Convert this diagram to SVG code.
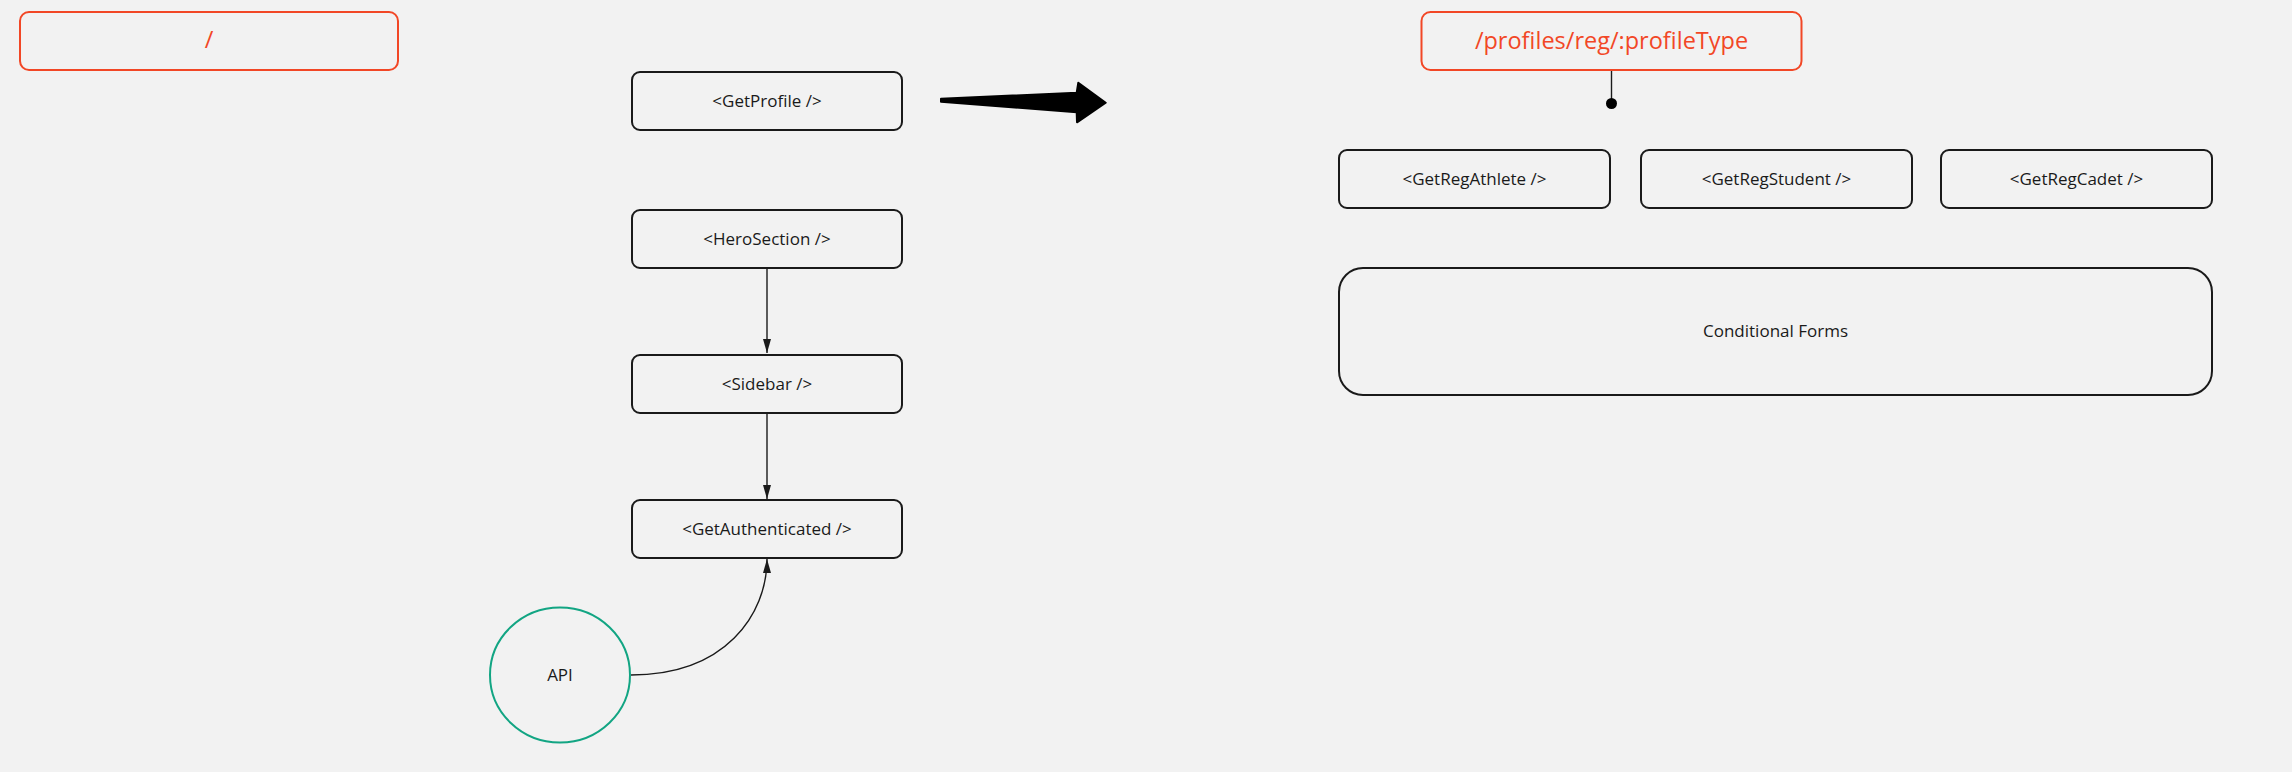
<svg xmlns="http://www.w3.org/2000/svg" width="2292" height="772" viewBox="0 0 2292 772">
  <style>
    .node { fill: #f2f2f2; stroke: #1a1a1a; stroke-width: 2; }
    .route { fill: #f2f2f2; stroke: #f24726; stroke-width: 2; }
    .lbl { font-family: "Open Sans", "Noto Sans", "Liberation Sans", sans-serif; font-size: 17px; fill: #1a1a1a; text-anchor: middle; }
    .rlbl { font-family: "Open Sans", "Noto Sans", "Liberation Sans", sans-serif; font-size: 23.5px; fill: #f24726; text-anchor: middle; }
    .conn { fill: none; stroke: #1a1a1a; stroke-width: 1.4; }
  </style>
  <defs>
    <marker id="arr" markerUnits="userSpaceOnUse" markerWidth="16" markerHeight="10" refX="14" refY="4" orient="auto">
      <path d="M0,0 L14,4 L0,8 z" fill="#1a1a1a"/>
    </marker>
  </defs>
  <rect x="0" y="0" width="2292" height="772" fill="#f2f2f2"/>

  <g id="connectors">
    <path class="conn" d="M767,269 L767,353" marker-end="url(#arr)"/>
    <path class="conn" d="M767,413 L767,499" marker-end="url(#arr)"/>
    <path class="conn" d="M631,675 C725,675 767,615 767,559" marker-end="url(#arr)"/>
    <path class="conn" d="M1611.5,71 L1611.5,103"/>
    <circle cx="1611.5" cy="103.5" r="5.5" fill="#000"/>
    <polygon points="941,98.7 1076.7,92.7 1078.3,82.7 1105.7,102.7 1077,122.3 1076.7,112.3 941,101.7" fill="#000" stroke="#000" stroke-width="2" stroke-linejoin="round"/>
  </g>

  <g id="route-root">
    <rect class="route" x="20" y="12" width="378" height="58" rx="9"/>
    <text class="rlbl" x="209" y="47.5">/</text>
  </g>

  <g id="route-profiles">
    <rect class="route" x="1421.5" y="12" width="380" height="58" rx="9"/>
    <text class="rlbl" x="1611.5" y="49">/profiles/reg/:profileType</text>
  </g>

  <g id="getprofile">
    <rect class="node" x="632" y="72" width="270" height="58" rx="8"/>
    <text class="lbl" x="767" y="107">&lt;GetProfile /&gt;</text>
  </g>

  <g id="herosection">
    <rect class="node" x="632" y="210" width="270" height="58" rx="8"/>
    <text class="lbl" x="767" y="245">&lt;HeroSection /&gt;</text>
  </g>

  <g id="sidebar">
    <rect class="node" x="632" y="355" width="270" height="58" rx="8"/>
    <text class="lbl" x="767" y="390">&lt;Sidebar /&gt;</text>
  </g>

  <g id="getauthenticated">
    <rect class="node" x="632" y="500" width="270" height="58" rx="8"/>
    <text class="lbl" x="767" y="535">&lt;GetAuthenticated /&gt;</text>
  </g>

  <g id="api">
    <ellipse cx="560" cy="675" rx="70" ry="67.5" fill="#f2f2f2" stroke="#12a583" stroke-width="2"/>
    <text class="lbl" x="560" y="681">API</text>
  </g>

  <g id="getregathlete">
    <rect class="node" x="1339" y="150" width="271" height="58" rx="8"/>
    <text class="lbl" x="1474.5" y="185">&lt;GetRegAthlete /&gt;</text>
  </g>

  <g id="getregstudent">
    <rect class="node" x="1641" y="150" width="271" height="58" rx="8"/>
    <text class="lbl" x="1776.5" y="185">&lt;GetRegStudent /&gt;</text>
  </g>

  <g id="getregcadet">
    <rect class="node" x="1941" y="150" width="271" height="58" rx="8"/>
    <text class="lbl" x="2076.5" y="185">&lt;GetRegCadet /&gt;</text>
  </g>

  <g id="conditionalforms">
    <rect class="node" x="1339" y="268" width="873" height="127" rx="24"/>
    <text class="lbl" x="1775.5" y="337">Conditional Forms</text>
  </g>
</svg>
